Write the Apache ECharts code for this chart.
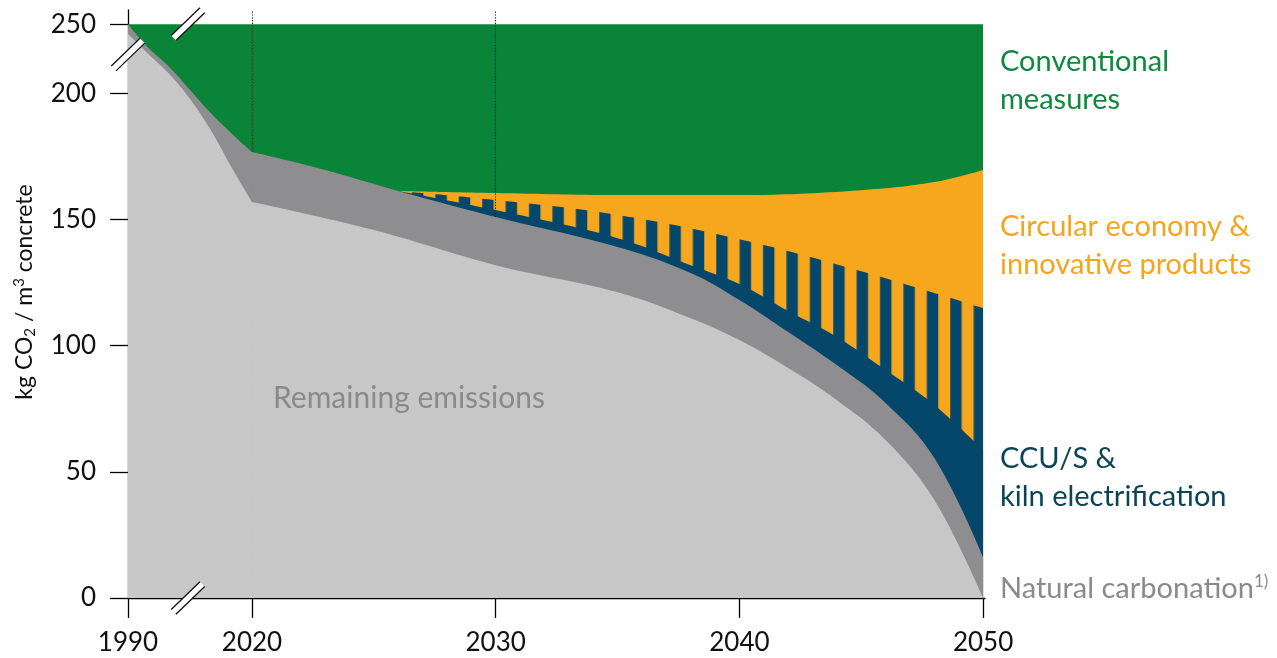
<!DOCTYPE html>
<html>
<head>
<meta charset="utf-8">
<title>CO2 reduction roadmap for concrete</title>
<script src="https://cdn.jsdelivr.net/npm/echarts@6/dist/echarts.min.js"></script>
<style>
  html, body { margin: 0; padding: 0; background: #ffffff; }
  #main { width: 1277px; height: 658px; }
</style>
</head>
<body>
<div id="main"></div>
<script>
// ---- Data: upper boundary of each band, kg CO2 per m3 of concrete ----
const remainingYears = [1990, 1995, 2000, 2005, 2010, 2015, 2020, 2025, 2030, 2035, 2038, 2040, 2042, 2044, 2046, 2048, 2050];
const remainingTop   = [242.9, 228.3, 213.9, 197.7, 185.4, 170.8, 156.9, 145.8, 131.9, 121.2, 110.9, 102.2, 91.1, 78.4, 62.6, 38.8, 0];

const carbonationYears = [1990, 1995, 2000, 2005, 2010, 2015, 2020, 2023, 2026, 2030, 2035, 2038, 2040, 2042, 2044, 2046, 2048, 2050];
const carbonationTop   = [250, 232.7, 219.0, 202.4, 192.2, 184.2, 176.7, 169.6, 161.3, 151.0, 139.1, 128.8, 118.1, 105.4, 92.3, 77.3, 55.5, 16.2];

const ccusYears = [2026, 2030, 2035, 2038, 2040, 2042, 2044, 2046, 2048, 2050];
const ccusTop   = [161.3, 153.7, 142.6, 131.9, 124.4, 113.7, 103.4, 90.3, 76.5, 58.6];

const sharedYears = [2026, 2030, 2035, 2040, 2045, 2050];
const sharedTop   = [161.3, 157.7, 151.8, 142.2, 129.5, 114.9];

const circularYears = [2026, 2030, 2035, 2040, 2045, 2048, 2050];
const circularTop   = [161.3, 160.5, 159.7, 159.7, 161.6, 164.8, 169.6];

const conventionalYears = [1990, 2050];
const conventionalTop   = [250, 250];

const xTickYears  = [1990, 2020, 2030, 2040, 2050];
const yTickValues = [0, 50, 100, 150, 200, 250];
const dottedYears = [2020, 2030];

// ---- Broken axes: 1990-2020 squeezed on x, 200-250 squeezed on y ----
const X_BREAK = { from: 1990, to: 2020, startPos: 2014.91 };
const Y_BREAK = { from: 200, to: 250, span: 27.4 };
const X_MAX = 2050.08, Y_MAX = 233;

function xPos(year) {
  if (year >= X_BREAK.to) return year;
  return X_BREAK.startPos + (year - X_BREAK.from) * (X_BREAK.to - X_BREAK.startPos) / (X_BREAK.to - X_BREAK.from);
}
function xYear(pos) {
  if (pos >= X_BREAK.to - 1e-6) return pos;
  return X_BREAK.from + (pos - X_BREAK.startPos) * (X_BREAK.to - X_BREAK.from) / (X_BREAK.to - X_BREAK.startPos);
}
function yPos(v) {
  if (v <= Y_BREAK.from) return v;
  return Y_BREAK.from + (v - Y_BREAK.from) * Y_BREAK.span / (Y_BREAK.to - Y_BREAK.from);
}
function yValue(pos) {
  if (pos <= Y_BREAK.from + 1e-6) return pos;
  return Y_BREAK.from + (pos - Y_BREAK.from) * (Y_BREAK.to - Y_BREAK.from) / Y_BREAK.span;
}

// ---- Colours ----
const C = {
  green: '#0a8439',
  orange: '#f7a71e',
  blue: '#04476b',
  darkGrey: '#8e8e90',
  lightGrey: '#c7c7c7',
  greenText: '#0d8a3e',
  orangeText: '#f5a51c',
  blueText: '#0a4456',
  greyText: '#8a8a8a'
};

// vertical stripe tile for the shared CCU/S / circular-economy zone
const STRIPE_PERIOD = 23.4, STRIPE_WIDTH = 11.4, STRIPE_REPEAT = 5;
function stripeTile() {
  const c = document.createElement('canvas');
  c.width = Math.round(STRIPE_PERIOD * STRIPE_REPEAT);
  c.height = 4;
  const ctx = c.getContext('2d');
  ctx.fillStyle = C.blue;
  for (let k = 0; k < STRIPE_REPEAT; k++) ctx.fillRect(k * STRIPE_PERIOD, 0, STRIPE_WIDTH, 4);
  return c;
}
const tile = stripeTile();

// One filled band = one or two area series (the curves have a corner at 2020,
// where the squeezed part of the x axis ends).
function band(name, years, values, color, z, extra) {
  const base = {
    name, type: 'line', smooth: 0.4, showSymbol: false, symbol: 'none',
    lineStyle: { width: 0 }, areaStyle: { color, opacity: 1, origin: 'start' },
    z, silent: true, animation: false
  };
  const all = [], before = [], after = [];
  years.forEach((y, i) => {
    const p = [xPos(y), yPos(values[i])];
    all.push(p);
    if (y <= X_BREAK.to) before.push(p);
    if (y >= X_BREAK.to) after.push(p);
  });
  if (before.length > 1 && after.length > 1) {
    return [
      Object.assign({}, base, { data: before }),
      Object.assign({}, base, { data: after }, extra || {})
    ];
  }
  return [Object.assign({}, base, { data: all }, extra || {})];
}

const FONT = 'Lato, "Open Sans", sans-serif';

const chart = echarts.init(document.getElementById('main'), null, { renderer: 'canvas' });

function buildOption(stripeOffset) {
  return {
    animation: false,
    backgroundColor: '#ffffff',
    grid: { left: 128, top: 10, width: 857, height: 588, containLabel: false },
    xAxis: {
      type: 'value', min: xPos(1990), max: X_MAX,
      splitLine: { show: false },
      axisLine: { show: true, onZero: false, lineStyle: { color: '#000', width: 1.3 } },
      axisTick: { show: true, length: 20, lineStyle: { color: '#000', width: 1.3 }, customValues: xTickYears.map(xPos) },
      axisLabel: {
        customValues: xTickYears.map(xPos), margin: 32,
        formatter: v => String(Math.round(xYear(v))),
        fontFamily: FONT, fontSize: 26, color: '#111'
      }
    },
    yAxis: {
      type: 'value', min: 0, max: Y_MAX,
      splitLine: { show: false },
      axisLine: { show: true, lineStyle: { color: '#000', width: 1.3 } },
      axisTick: { show: true, length: 18, lineStyle: { color: '#000', width: 1.3 }, customValues: yTickValues.map(yPos) },
      axisLabel: {
        customValues: yTickValues.map(yPos), margin: 32,
        formatter: v => String(Math.round(yValue(v))),
        fontFamily: FONT, fontSize: 26, color: '#111'
      }
    },
    series: [
      ...band('Conventional measures', conventionalYears, conventionalTop, C.green, 1),
      ...band('Circular economy & innovative products', circularYears, circularTop, C.orange, 2),
      ...band('Shared zone', sharedYears, sharedTop,
        { image: tile, repeat: 'repeat', x: stripeOffset, y: 0 }, 3),
      ...band('CCU/S & kiln electrification', ccusYears, ccusTop, C.blue, 4),
      ...band('Natural carbonation', carbonationYears, carbonationTop, C.darkGrey, 5),
      ...band('Remaining emissions', remainingYears, remainingTop, C.lightGrey, 6, {
        markLine: {
          silent: true, symbol: 'none', animation: false,
          label: { show: false },
          lineStyle: { color: '#111', type: [1.2, 1.6], width: 1.1 },
          data: dottedYears.map(y => ({ xAxis: xPos(y) }))
        }
      })
    ]
  };
}

chart.setOption(buildOption(0));

// align the stripe tile so that a blue stripe closes the right edge
const rightPx = chart.convertToPixel({ xAxisIndex: 0 }, X_MAX);
const firstStripe = rightPx - STRIPE_WIDTH;
const offset = ((firstStripe % STRIPE_PERIOD) + STRIPE_PERIOD) % STRIPE_PERIOD;
chart.setOption(buildOption(offset));

// ---- Axis-break marks and annotations ----
function pt(year, value) { return chart.convertToPixel({ gridIndex: 0 }, [xPos(year), yPos(value)]); }

function breakMark(cx, cy, id) {
  const L = 20, W = 3.4;
  const a = 44 * Math.PI / 180;
  const dx = Math.cos(a), dy = -Math.sin(a);
  const nx = -dy, ny = dx;
  const p1 = [cx - dx * L + nx * W, cy - dy * L + ny * W];
  const p2 = [cx + dx * L + nx * W, cy + dy * L + ny * W];
  const p3 = [cx + dx * L - nx * W, cy + dy * L - ny * W];
  const p4 = [cx - dx * L - nx * W, cy - dy * L - ny * W];
  return [
    { type: 'polygon', id: id + 'f', z: 50, shape: { points: [p1, p2, p3, p4] }, style: { fill: '#fff' } },
    { type: 'line', id: id + 'a', z: 51, shape: { x1: p1[0], y1: p1[1], x2: p2[0], y2: p2[1] }, style: { stroke: '#111', lineWidth: 1.3 } },
    { type: 'line', id: id + 'b', z: 51, shape: { x1: p4[0], y1: p4[1], x2: p3[0], y2: p3[1] }, style: { stroke: '#111', lineWidth: 1.3 } }
  ];
}

const topBreak = pt(2004.5, 250);
const bottomBreak = pt(2004.5, 0);
const yBreak = [chart.convertToPixel({ xAxisIndex: 0 }, xPos(1990)), chart.convertToPixel({ yAxisIndex: 0 }, yPos(228))];

function label(text, x, y, color, size) {
  return {
    type: 'text', x, y, z: 60,
    style: { text, fill: color, font: (size || 29) + 'px ' + FONT, textVerticalAlign: 'middle', lineHeight: 38 }
  };
}

chart.setOption({
  graphic: [
    ...breakMark(topBreak[0], topBreak[1], 'bt'),
    ...breakMark(bottomBreak[0], bottomBreak[1], 'bb'),
    ...breakMark(yBreak[0], yBreak[1], 'by'),
    label('Conventional\nmeasures', 1000, 81, C.greenText),
    label('Circular economy &\ninnovative products', 1000, 246, C.orangeText),
    label('CCU/S &\nkiln electrification', 1000, 478, C.blueText),
    {
      type: 'text', x: 1000, y: 589, z: 60,
      style: {
        text: 'Natural carbonation{sup|1)}', fill: C.greyText, font: '29px ' + FONT, textVerticalAlign: 'middle',
        rich: { sup: { fontSize: 17, fontFamily: FONT, fill: C.greyText, padding: [0, 0, 15, 0] } }
      }
    },
    label('Remaining emissions', 273, 398, C.greyText, 30),
    {
      type: 'text', x: 25, y: 292, rotation: Math.PI / 2, z: 60,
      style: {
        text: 'kg CO{sub|2} / m{sup|3} concrete', fill: '#111', font: '23px ' + FONT,
        textAlign: 'center', textVerticalAlign: 'middle',
        rich: {
          sub: { fontSize: 15, fontFamily: FONT, fill: '#111', padding: [11, 0, 0, 0] },
          sup: { fontSize: 15, fontFamily: FONT, fill: '#111', padding: [0, 0, 11, 0] }
        }
      }
    }
  ]
});
</script>
</body>
</html>
